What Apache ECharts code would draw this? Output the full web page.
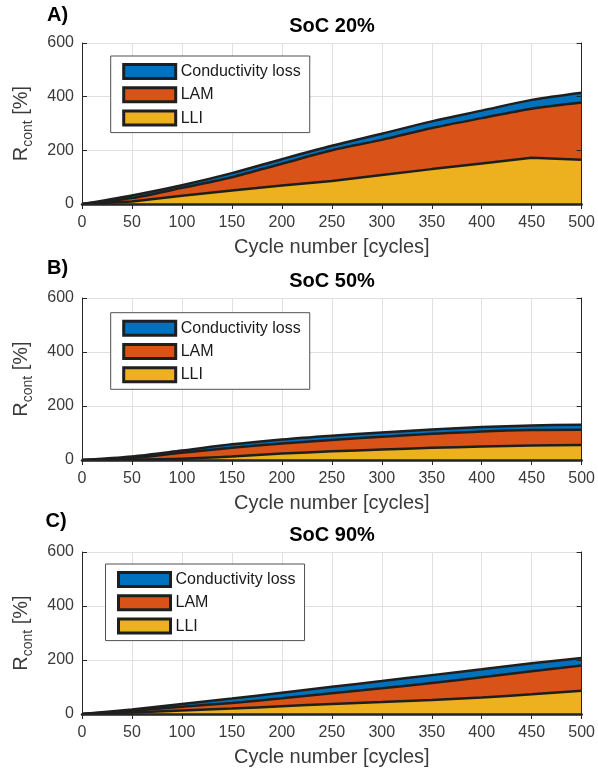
<!DOCTYPE html>
<html>
<head>
<meta charset="utf-8">
<script src="https://cdn.jsdelivr.net/npm/echarts@6/dist/echarts.min.js"></script>
<style>
html,body{margin:0;padding:0;background:#fff;}
#chart{width:598px;height:777px;}
</style>
</head>
<body>
<div id="chart"></div>
<script>
// ---- data ----
const cycles = [0, 50, 100, 150, 200, 250, 300, 350, 400, 450, 500];
const yTicks = [0, 200, 400, 600];
const seriesNames = ['Conductivity loss', 'LAM', 'LLI'];
const panelLabels = ['A)', 'B)', 'C)'];
const panelTitles = ['SoC 20%', 'SoC 50%', 'SoC 90%'];

// SoC 20%
const lliA  = [0, 9, 31, 50, 69, 86, 108, 130, 151, 172, 165];
const lamA  = [0, 13, 29, 50, 81, 114, 131, 153, 169, 183, 213];
const condA = [0, 10, 10, 15, 17, 17, 23, 25, 28, 33, 37];
// SoC 50%
const lliB  = [0, 1, 5, 13, 24, 32, 39, 45, 50, 54, 56];
const lamB  = [0, 6, 22, 32, 37, 42, 47, 52, 56, 57, 56];
const condB = [0, 6, 8, 13, 15, 16, 16, 16, 16, 17, 19];
// SoC 90%
const lliC  = [0, 6, 13, 20, 29, 37, 44, 52, 61, 73, 86];
const lamC  = [0, 6, 14, 21, 29, 40, 51, 63, 75, 85, 94];
const condC = [0, 5, 10, 16, 21, 24, 27, 29, 30, 30, 27];

const panels = [
  {lli: lliA, lam: lamA, cond: condA, lliSmooth: 0},
  {lli: lliB, lam: lamB, cond: condB, lliSmooth: 0.3},
  {lli: lliC, lam: lamC, cond: condC, lliSmooth: 0.3}
];

// ---- styling / layout ----
const FONT = "'Liberation Sans', Arial, Helvetica, sans-serif";
const TXT = '#262626';
const LBL = '#3a3a3a';
const EDGE = '#1f1f1f';
const colors = {'Conductivity loss': '#0072BD', 'LAM': '#D95319', 'LLI': '#EDB120'};
const gridTops = [43, 298, 552];
const gridHeights = [161, 162, 162];
const legendPos = [{left: 110.7, top: 56}, {left: 110.7, top: 312.7}, {left: 105.5, top: 564}];
const labelPos = [{left: 47, top: 5.5}, {left: 47, top: 258}, {left: 45.5, top: 511.7}];
const titleTops = [16.7, 271.7, 525.7];

const grid = [], xAxis = [], yAxis = [], series = [], legend = [], title = [];

panels.forEach((p, i) => {
  grid.push({left: 82, top: gridTops[i], width: 500, height: gridHeights[i]});
  const xVal = {gridIndex: i, type: 'value', min: cycles[0], max: cycles[cycles.length - 1], interval: cycles[1] - cycles[0]};
  const yBase = {gridIndex: i, type: 'value', min: yTicks[0], max: yTicks[yTicks.length - 1], interval: yTicks[1] - yTicks[0]};
  // main x axis (category): labels, grid lines, name
  xAxis.push({
    gridIndex: i, type: 'category', data: cycles, boundaryGap: false,
    position: 'bottom',
    axisLine: {show: false}, axisTick: {show: false},
    axisLabel: {interval: 0, fontSize: 16, color: LBL, margin: 11, fontFamily: FONT},
    splitLine: {show: true, interval: 0, lineStyle: {color: '#e0e0e0', width: 1}},
    name: 'Cycle number [cycles]', nameLocation: 'middle', nameGap: 33,
    nameTextStyle: {fontSize: 20, color: LBL, fontFamily: FONT}
  });
  // bottom baseline overlay
  xAxis.push(Object.assign({}, xVal, {
    position: 'bottom', z: 10,
    axisLine: {show: true, lineStyle: {color: EDGE, width: 2.5}},
    axisTick: {show: false}, axisLabel: {show: false}, splitLine: {show: false}
  }));
  // top box line
  xAxis.push(Object.assign({}, xVal, {
    position: 'top', z: 10,
    axisLine: {show: true, lineStyle: {color: TXT, width: 1}},
    axisTick: {show: true, inside: true, length: 5, lineStyle: {color: TXT, width: 1}},
    axisLabel: {show: false}, splitLine: {show: false}
  }));
  // main y axis
  yAxis.push(Object.assign({}, yBase, {
    position: 'left',
    axisLine: {show: false}, axisTick: {show: false},
    axisLabel: {fontSize: 16, color: LBL, margin: 8, fontFamily: FONT},
    splitLine: {show: true, lineStyle: {color: '#e0e0e0', width: 1}},
    name: '{r|R}{s|cont}{r| [%]}', nameLocation: 'middle', nameGap: 47,
    nameTextStyle: {
      color: LBL, fontFamily: FONT,
      rich: {
        r: {fontSize: 20, lineHeight: 28, color: LBL, fontFamily: FONT},
        s: {fontSize: 14, lineHeight: 14, verticalAlign: 'bottom', color: LBL, fontFamily: FONT}
      }
    }
  }));
  // left box line
  yAxis.push(Object.assign({}, yBase, {
    position: 'left', z: 10,
    axisLine: {show: true, lineStyle: {color: TXT, width: 1}},
    axisTick: {show: true, inside: true, length: 5, lineStyle: {color: TXT, width: 1}},
    axisLabel: {show: false}, splitLine: {show: false}
  }));
  // right box line
  yAxis.push(Object.assign({}, yBase, {
    position: 'right', z: 10,
    axisLine: {show: true, lineStyle: {color: TXT, width: 1}},
    axisTick: {show: true, inside: true, length: 5, lineStyle: {color: TXT, width: 1}},
    axisLabel: {show: false}, splitLine: {show: false}
  }));

  const comps = [
    {name: 'LLI', data: p.lli, z: 5, smooth: p.lliSmooth},
    {name: 'LAM', data: p.lam, z: 4, smooth: 0.3},
    {name: 'Conductivity loss', data: p.cond, z: 3, smooth: 0.3}
  ];
  comps.forEach(c => {
    series.push({
      type: 'line', name: c.name, stack: 'stack' + i,
      xAxisIndex: 3 * i, yAxisIndex: 3 * i, z: c.z,
      data: c.data,
      symbol: 'none', showSymbol: false,
      smooth: c.smooth,
      itemStyle: {color: colors[c.name]},
      lineStyle: {color: EDGE, width: 2.5},
      areaStyle: {color: colors[c.name], opacity: 1},
      emphasis: {disabled: true}
    });
  });

  legend.push({
    left: legendPos[i].left, top: legendPos[i].top, orient: 'vertical',
    data: seriesNames, icon: 'rect', itemWidth: 52, itemHeight: 14, itemGap: 6.3,
    padding: [7, 9, 6, 11.5], backgroundColor: '#ffffff',
    borderColor: '#505050', borderWidth: 1, borderRadius: 0,
    selectedMode: false,
    itemStyle: {borderColor: EDGE, borderWidth: 3},
    textStyle: {fontSize: 16, color: '#1a1a1a', fontFamily: FONT, lineHeight: 16}
  });

  title.push({
    text: panelLabels[i], left: labelPos[i].left, top: labelPos[i].top, padding: 0,
    textStyle: {fontSize: 20, fontWeight: 'bold', color: '#000', fontFamily: FONT, lineHeight: 20}
  });
  title.push({
    text: panelTitles[i], left: 332, top: titleTops[i], padding: 0, textAlign: 'center',
    textStyle: {fontSize: 20, fontWeight: 'bold', color: '#000', fontFamily: FONT, lineHeight: 20}
  });
});

const chart = echarts.init(document.getElementById('chart'), null, {renderer: 'canvas'});
chart.setOption({
  animation: false,
  backgroundColor: '#ffffff',
  title, grid, xAxis, yAxis, series, legend,
  tooltip: {show: false}
});
</script>
</body>
</html>
